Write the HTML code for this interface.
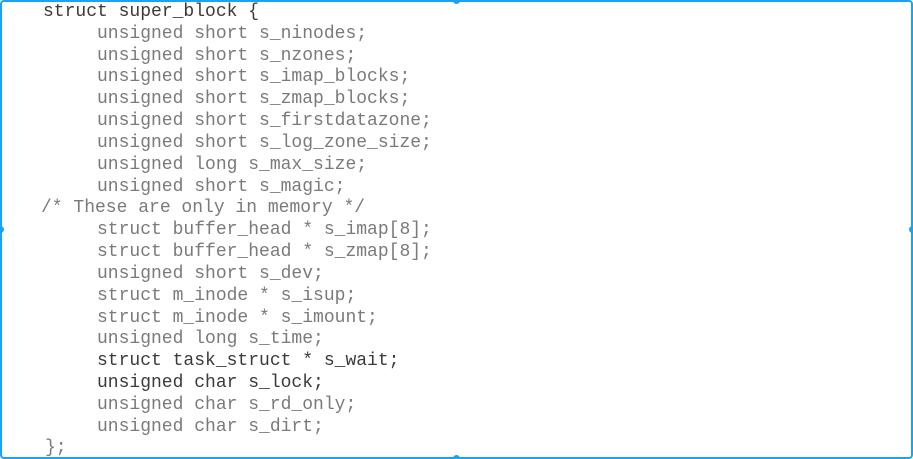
<!DOCTYPE html>
<html><head><style>
html,body{margin:0;padding:0;background:#fff;}
#c{position:relative;width:913px;height:459px;overflow:hidden;}
.b{position:absolute;left:0;top:0;width:909px;height:455px;border:2px solid #1aa3f2;border-radius:4px;}
.h{position:absolute;width:7px;height:7px;border-radius:50%;background:#1aa3f2;}
.l{position:absolute;font-family:"Liberation Mono","Courier New",monospace;font-size:18px;line-height:20px;white-space:pre;color:#7a7a7a;}
.d{color:#3a3a3a;}
</style></head><body><div id="c">
<div class="b"></div>
<div class="h" style="left:453px;top:-3px"></div>
<div class="h" style="left:453px;top:455px"></div>
<div class="h" style="left:-3px;top:226px"></div>
<div class="h" style="left:909px;top:226px"></div>
<div class="l d" style="left:43px;top:2px">struct super_block {</div>
<div class="l" style="left:97px;top:24px">unsigned short s_ninodes;</div>
<div class="l" style="left:97px;top:46px">unsigned short s_nzones;</div>
<div class="l" style="left:97px;top:67px">unsigned short s_imap_blocks;</div>
<div class="l" style="left:97px;top:89px">unsigned short s_zmap_blocks;</div>
<div class="l" style="left:97px;top:111px">unsigned short s_firstdatazone;</div>
<div class="l" style="left:97px;top:133px">unsigned short s_log_zone_size;</div>
<div class="l" style="left:97px;top:155px">unsigned long s_max_size;</div>
<div class="l" style="left:97px;top:177px">unsigned short s_magic;</div>
<div class="l" style="left:41px;top:198px">/* These are only in memory */</div>
<div class="l" style="left:97px;top:220px">struct buffer_head * s_imap[8];</div>
<div class="l" style="left:97px;top:242px">struct buffer_head * s_zmap[8];</div>
<div class="l" style="left:97px;top:264px">unsigned short s_dev;</div>
<div class="l" style="left:97px;top:286px">struct m_inode * s_isup;</div>
<div class="l" style="left:97px;top:308px">struct m_inode * s_imount;</div>
<div class="l" style="left:97px;top:329px">unsigned long s_time;</div>
<div class="l d" style="left:97px;top:351px">struct task_struct * s_wait;</div>
<div class="l d" style="left:97px;top:373px">unsigned char s_lock;</div>
<div class="l" style="left:97px;top:395px">unsigned char s_rd_only;</div>
<div class="l" style="left:97px;top:417px">unsigned char s_dirt;</div>
<div class="l" style="left:45px;top:438px">};</div>
</div></body></html>
